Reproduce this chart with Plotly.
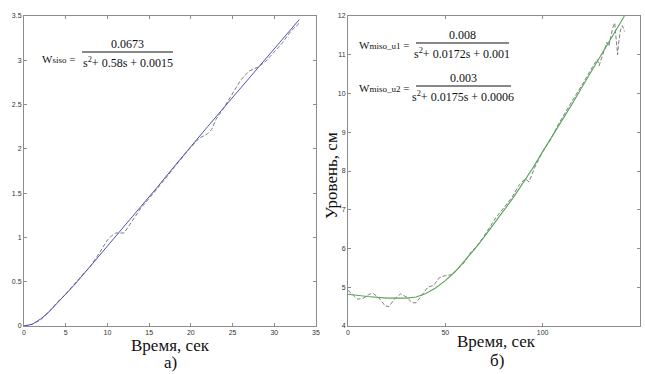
import plotly.graph_objects as go

# ---------- data: left panel (а) ----------
t_model_a = [0, 1, 2, 3, 4, 5, 6, 8, 10, 12, 14, 16, 18, 20, 22, 24, 26, 28, 30, 32, 33]
y_model_a = [0, 0.02, 0.08, 0.16, 0.26, 0.36, 0.46, 0.68, 0.90, 1.12, 1.34, 1.57, 1.80, 2.03, 2.25, 2.47, 2.69, 2.91, 3.13, 3.35, 3.46]
t_exp_a = [0, 1, 2, 3, 4, 5, 6, 7, 8, 9, 10, 10.5, 11, 12, 12.5, 13, 14, 15, 16, 17, 18, 19, 20, 21, 22,
           22.5, 23, 24, 25, 26, 27, 28, 29, 30, 31, 32, 33]
y_exp_a = [0, 0.02, 0.07, 0.16, 0.27, 0.36, 0.47, 0.57, 0.68, 0.82, 0.97, 1.02, 1.05, 1.05, 1.12, 1.20,
           1.33, 1.44, 1.55, 1.67, 1.79, 1.91, 2.02, 2.12, 2.17, 2.22, 2.33, 2.47, 2.63, 2.78, 2.88,
           2.92, 2.99, 3.10, 3.20, 3.33, 3.42]

# ---------- data: right panel (б) ----------
t_model_b = [0, 10, 20, 30, 35, 40, 45, 50, 55, 60, 65, 70, 75, 80, 85, 90, 95, 100, 105, 110, 115,
             120, 125, 130, 135, 140, 142]
y_model_b = [4.82, 4.76, 4.72, 4.72, 4.75, 4.84, 4.98, 5.17, 5.40, 5.68, 5.98, 6.30, 6.63, 6.98, 7.32,
             7.70, 8.08, 8.50, 8.90, 9.30, 9.72, 10.15, 10.57, 11.00, 11.42, 11.85, 12.0]
t_exp_b = [0, 3, 5, 8, 11, 13, 16, 19, 21, 24, 27, 30, 33, 35, 38, 41, 44, 47, 50, 53, 56, 60, 63, 66,
           69, 72, 76, 80, 84, 88, 91, 93, 96, 100, 104, 108, 112, 116, 120, 123, 126, 128, 129, 131,
           133, 134, 136, 137, 138, 138.5, 139, 140, 141, 142]
y_exp_b = [4.92, 4.78, 4.69, 4.72, 4.82, 4.84, 4.72, 4.52, 4.50, 4.70, 4.83, 4.75, 4.60, 4.60, 4.80,
           5.00, 5.05, 5.25, 5.30, 5.32, 5.45, 5.65, 5.90, 6.05, 6.25, 6.50, 6.80, 7.05, 7.30, 7.65,
           7.80, 7.72, 8.10, 8.50, 8.80, 9.20, 9.55, 9.88, 10.20, 10.48, 10.72, 10.88, 10.72, 11.02,
           11.32, 11.22, 11.70, 11.82, 11.30, 11.00, 11.30, 11.65, 11.75, 11.60]

x_ticks_a = [0, 5, 10, 15, 20, 25, 30, 35]
y_ticks_a = [0, 0.5, 1, 1.5, 2, 2.5, 3, 3.5]
x_ticks_b = [0, 50, 100, 150]
y_ticks_b = [4, 5, 6, 7, 8, 9, 10, 11, 12]

W, H = 645, 374
def px(x):
    return x / W
def py(y):
    return 1 - y / H

fig = go.Figure()
fig.add_trace(go.Scatter(x=t_exp_a, y=y_exp_a, mode="lines", xaxis="x", yaxis="y",
                         line=dict(color="#707070", width=0.9, dash="4px,2px"), showlegend=False))
fig.add_trace(go.Scatter(x=t_model_a, y=y_model_a, mode="lines", xaxis="x", yaxis="y",
                         line=dict(color="#5050b8", width=1), showlegend=False))
fig.add_trace(go.Scatter(x=t_exp_b, y=y_exp_b, mode="lines", xaxis="x2", yaxis="y2",
                         line=dict(color="#707070", width=0.9, dash="4px,2px"), showlegend=False))
fig.add_trace(go.Scatter(x=t_model_b, y=y_model_b, mode="lines", xaxis="x2", yaxis="y2",
                         line=dict(color="#5aa55a", width=1.1), showlegend=False))

axis_common = dict(showline=True, mirror="ticks", linecolor="#8c8c8c", linewidth=1,
                   ticks="inside", ticklen=3, tickcolor="#8c8c8c", showgrid=False, zeroline=False,
                   automargin=False,
                   tickfont=dict(family="Liberation Sans, Arial", size=7, color="#333333"))

fig.update_layout(
    width=W, height=H, margin=dict(l=0, r=0, t=0, b=0, pad=0, autoexpand=False),
    paper_bgcolor="white", plot_bgcolor="white",
    xaxis=dict(domain=[px(24), px(316)], range=[0, 35], tickvals=x_ticks_a, anchor="y", **axis_common),
    yaxis=dict(domain=[py(326), py(16)], range=[0, 3.5], tickvals=y_ticks_a, anchor="x", **axis_common),
    xaxis2=dict(domain=[px(348), px(640)], range=[0, 150], tickvals=x_ticks_b, anchor="y2", **axis_common),
    yaxis2=dict(domain=[py(326), py(16)], range=[4, 12], tickvals=y_ticks_b, anchor="x2", **axis_common),
)

serif = "Liberation Serif, Times New Roman, serif"
anns = []
def txt(x, y, s, size=12, xanchor="center", angle=0):
    anns.append(dict(x=px(x), y=py(y), xref="paper", yref="paper", text=s, showarrow=False,
                     xanchor=xanchor, yanchor="middle", textangle=angle,
                     font=dict(family=serif, size=size, color="#111111")))

# left formula
txt(40, 59, "W<span style='font-size:9px'>siso</span> =", size=11, xanchor="left")
txt(127, 44, "0.0673")
txt(128, 62, "s<sup>2</sup>+ 0.58s + 0.0015")
# right formulas
txt(357, 45, "W<span style='font-size:9px'>miso_u1</span> =", size=11, xanchor="left")
txt(462, 35, "0.008")
txt(462, 53, "s<sup>2</sup>+ 0.0172s + 0.001")
txt(357, 88, "W<span style='font-size:9px'>miso_u2</span> =", size=11, xanchor="left")
txt(463, 78, "0.003")
txt(463, 96, "s<sup>2</sup>+ 0.0175s + 0.0006")
# axis titles and captions
txt(170, 345, "Время, сек", size=17)
txt(170, 362, "а)", size=17)
txt(497, 341, "Время, сек", size=17)
txt(497, 360, "б)", size=17)
txt(331, 176, "Уровень, см", size=17, angle=-90)
fig.update_layout(annotations=anns)

shapes = []
for x0, x1, y in [(82, 173, 52), (416, 509, 43), (416, 511, 86)]:
    shapes.append(dict(type="line", xref="paper", yref="paper", x0=px(x0), x1=px(x1),
                       y0=py(y), y1=py(y), line=dict(color="#111111", width=1)))
fig.update_layout(shapes=shapes)

fig.write_html("out.html", config={"displayModeBar": False},
               post_script="document.body.style.margin='0';document.body.style.padding='0';")
